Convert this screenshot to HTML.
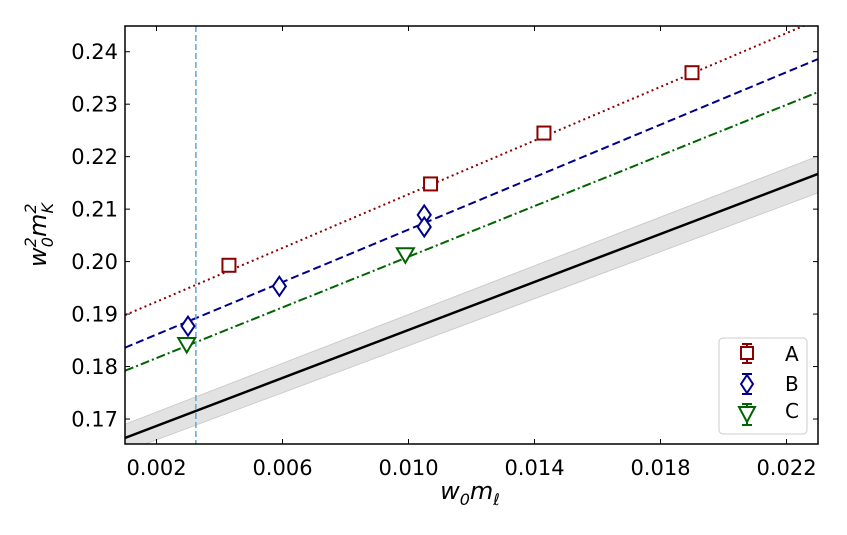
<!DOCTYPE html>
<html><head><meta charset="utf-8"><style>
body{margin:0;background:#fff;}
svg text{font-family:"DejaVu Sans","Liberation Sans",sans-serif;}
</style></head><body>
<svg id="c" width="847" height="530" xmlns="http://www.w3.org/2000/svg">
<defs><clipPath id="clip"><rect x="125" y="26" width="693" height="418"/></clipPath></defs>
<g id="plot" clip-path="url(#clip)"></g>
<g id="axes"></g>
<text x="0" y="0" transform="translate(46,235) rotate(-90)" text-anchor="middle" font-size="24" font-style="italic">w<tspan font-size="16" dy="-10">2</tspan><tspan font-size="16" dx="-10" dy="17">0</tspan><tspan dy="-7">m</tspan><tspan font-size="16" dy="-10">2</tspan><tspan font-size="16" dx="-10" dy="17">K</tspan></text>
<text x="470" y="499" text-anchor="middle" font-size="24" font-style="italic">w<tspan font-size="16" dy="6">0</tspan><tspan dy="-6">m</tspan><tspan font-size="16" dy="6">ℓ</tspan></text>
<g>
<rect x="719" y="338" width="88" height="96" rx="4" fill="#fff" fill-opacity="0.8" stroke="#ccc"/>
<g><line x1="747" y1="344" x2="747" y2="363" stroke="#8b0000" stroke-width="2"/><line x1="742" y1="344" x2="752" y2="344" stroke="#8b0000" stroke-width="2"/><line x1="742" y1="363" x2="752" y2="363" stroke="#8b0000" stroke-width="2"/><rect x="741" y="347" width="12" height="12" fill="#fff" stroke="#8b0000" stroke-width="2"/><text x="785" y="361" font-size="20">A</text></g>
<g><line x1="747" y1="374" x2="747" y2="394" stroke="#00008b" stroke-width="2"/><line x1="742" y1="374" x2="752" y2="374" stroke="#00008b" stroke-width="2"/><line x1="742" y1="394" x2="752" y2="394" stroke="#00008b" stroke-width="2"/><polygon points="747,375 753,384 747,393 741,384" fill="#fff" stroke="#00008b" stroke-width="2"/><text x="785" y="391" font-size="20">B</text></g>
<g><line x1="747" y1="404" x2="747" y2="425" stroke="#006400" stroke-width="2"/><line x1="742" y1="404" x2="752" y2="404" stroke="#006400" stroke-width="2"/><line x1="742" y1="425" x2="752" y2="425" stroke="#006400" stroke-width="2"/><polygon points="739,407 755,407 747,422" fill="#fff" stroke="#006400" stroke-width="2"/><text x="785" y="418" font-size="20">C</text></g>
</g>
</svg>
<script>
const xTicks=[0.002,0.006,0.010,0.014,0.018,0.022];
const xTickLabels=["0.002","0.006","0.010","0.014","0.018","0.022"];
const yTicks=[0.17,0.18,0.19,0.20,0.21,0.22,0.23,0.24];
const yTickLabels=["0.17","0.18","0.19","0.20","0.21","0.22","0.23","0.24"];
const aX=[0.0043,0.0107,0.0143,0.0190];
const aY=[0.1993,0.2148,0.2245,0.2360];
const bX=[0.0030,0.0059,0.0105,0.0105];
const bY=[0.1877,0.1953,0.2089,0.2066];
const cX=[0.00296,0.0099];
const cY=[0.1843,0.2014];
const fitX=[0.001,0.023];
const fitA=[0.1898,0.2461];
const fitB=[0.1836,0.2386];
const fitC=[0.1792,0.2323];
const fitPhys=[0.1664,0.2167];
const bandLo=[0.1638,0.2131];
const bandHi=[0.1690,0.2201];
const vlineX=0.00325;
const X0=0.001,X1=0.023,Y0=0.16524,Y1=0.2449;
const L=125,R=818,T=26,B=444;
const sx=v=>L+(v-X0)/(X1-X0)*(R-L);
const sy=v=>B-(v-Y0)/(Y1-Y0)*(B-T);
const NS="http://www.w3.org/2000/svg";
const plot=document.getElementById('plot'),axes=document.getElementById('axes');
function mk(tag,attrs,parent){const e=document.createElementNS(NS,tag);for(const k in attrs)e.setAttribute(k,attrs[k]);parent.appendChild(e);return e;}
let band=mk('polygon',{points:`${sx(fitX[0])},${sy(bandLo[0])} ${sx(fitX[1])},${sy(bandLo[1])} ${sx(fitX[1])},${sy(bandHi[1])} ${sx(fitX[0])},${sy(bandHi[0])}`,fill:'#e2e2e2',stroke:'#cccccc','stroke-width':1},plot);


function fline(vals,col,dash,w,name){const l=mk('line',{x1:sx(fitX[0]),y1:sy(vals[0]),x2:sx(fitX[1]),y2:sy(vals[1]),stroke:col,'stroke-width':w,'stroke-dasharray':dash},plot);

}
fline(fitPhys,'#000','none',2.5,'physical-fit-line');
fline(fitA,'#8b0000','2,3.3',2,'fit-line-a');
fline(fitB,'#00008b','8,4',2,'fit-line-b');
fline(fitC,'#006400','9,3,2,3',2,'fit-line-c');
let vl=mk('line',{x1:sx(vlineX),y1:T,x2:sx(vlineX),y2:B,stroke:'#5fa8d8','stroke-width':1.5,'stroke-dasharray':'6,3'},plot);


aX.forEach((x,i)=>{const px=sx(x),py=sy(aY[i]);const r=mk('rect',{x:px-6.5,y:py-6.5,width:13,height:13,fill:'#fff',stroke:'#8b0000','stroke-width':2},plot);

});
bX.forEach((x,i)=>{const px=sx(x),py=sy(bY[i]);const p=mk('polygon',{points:`${px},${py-9.5} ${px+6.5},${py} ${px},${py+9.5} ${px-6.5},${py}`,fill:'#fff',stroke:'#00008b','stroke-width':2},plot);

});
cX.forEach((x,i)=>{const px=sx(x),py=sy(cY[i]);const p=mk('polygon',{points:`${px-8.5},${py-6} ${px+8.5},${py-6} ${px},${py+8.5}`,fill:'#fff',stroke:'#006400','stroke-width':2},plot);

});
const fr=mk('rect',{x:L,y:T,width:R-L,height:B-T,fill:'none',stroke:'#000','stroke-width':1.5},axes);


xTicks.forEach((v,i)=>{const x=sx(v);mk('line',{x1:x,y1:B,x2:x,y2:B-5,stroke:'#000'},axes);mk('line',{x1:x,y1:T,x2:x,y2:T+5,stroke:'#000'},axes);
const t=mk('text',{x:x,y:B+31,'text-anchor':'middle','font-size':21},axes);t.textContent=xTickLabels[i];

});
yTicks.forEach((v,i)=>{const y=sy(v);mk('line',{x1:L,y1:y,x2:L+5,y2:y,stroke:'#000'},axes);mk('line',{x1:R,y1:y,x2:R-5,y2:y,stroke:'#000'},axes);
const t=mk('text',{x:L-7,y:y+7.5,'text-anchor':'end','font-size':21},axes);t.textContent=yTickLabels[i];

});
</script>
</body></html>
